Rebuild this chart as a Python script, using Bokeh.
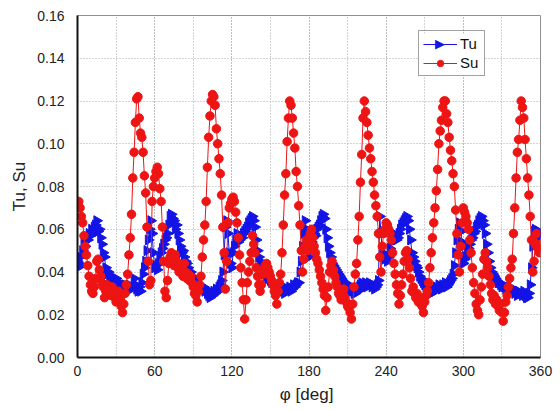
import math
from bokeh.plotting import figure
from bokeh.models import (Range1d, SingleIntervalTicker, NumeralTickFormatter, Legend,
                          LegendItem, Label, BoxAnnotation)
from bokeh.embed import file_html
from bokeh.resources import INLINE

phi = list(range(0, 361))

tu = [
0.045,0.044,0.047,0.043,0.050,0.054,0.052,0.056,0.055,0.058,
0.057,0.060,0.058,0.061,0.062,0.064,0.059,0.060,0.056,0.053,
0.049,0.047,0.042,0.039,0.040,0.037,0.038,0.036,0.036,0.035,
0.037,0.034,0.034,0.035,0.033,0.034,0.032,0.034,0.033,0.031,
0.034,0.032,0.033,0.033,0.037,0.034,0.032,0.031,0.033,0.031,
0.035,0.039,0.042,0.045,0.050,0.055,0.060,0.064,0.058,0.049,
0.042,0.043,0.041,0.044,0.046,0.049,0.051,0.053,0.055,0.056,
0.058,0.062,0.066,0.067,0.065,0.064,0.060,0.062,0.058,0.055,
0.052,0.049,0.050,0.047,0.045,0.044,0.042,0.039,0.040,0.038,
0.037,0.036,0.036,0.035,0.034,0.034,0.033,0.032,0.033,0.031,
0.032,0.030,0.029,0.028,0.030,0.029,0.031,0.030,0.032,0.031,
0.033,0.034,0.036,0.040,0.048,0.061,0.064,0.058,0.049,0.044,
0.042,0.049,0.052,0.055,0.058,0.054,0.055,0.057,0.056,0.058,
0.059,0.060,0.061,0.063,0.064,0.065,0.066,0.064,0.061,0.055,
0.050,0.047,0.045,0.043,0.041,0.039,0.040,0.038,0.037,0.037,
0.036,0.035,0.035,0.034,0.033,0.034,0.032,0.033,0.034,0.032,
0.031,0.030,0.032,0.031,0.032,0.033,0.031,0.032,0.034,0.033,
0.034,0.035,0.035,0.040,0.045,0.052,0.058,0.064,0.060,0.051,
0.047,0.050,0.054,0.056,0.058,0.057,0.060,0.061,0.062,0.064,
0.066,0.067,0.065,0.060,0.056,0.052,0.049,0.047,0.044,0.043,
0.042,0.041,0.040,0.039,0.038,0.037,0.036,0.035,0.034,0.034,
0.033,0.034,0.032,0.031,0.031,0.030,0.030,0.032,0.031,0.033,
0.034,0.035,0.034,0.033,0.035,0.033,0.034,0.035,0.034,0.033,
0.034,0.032,0.033,0.034,0.036,0.066,0.058,0.049,0.047,0.046,
0.048,0.045,0.047,0.051,0.054,0.056,0.058,0.057,0.055,0.056,
0.058,0.060,0.062,0.063,0.064,0.065,0.066,0.064,0.060,0.055,
0.049,0.047,0.045,0.043,0.042,0.040,0.038,0.037,0.036,0.035,
0.034,0.033,0.031,0.030,0.031,0.030,0.031,0.032,0.031,0.033,
0.032,0.034,0.033,0.032,0.034,0.033,0.035,0.033,0.034,0.035,
0.036,0.037,0.039,0.043,0.049,0.055,0.060,0.063,0.059,0.054,
0.044,0.046,0.047,0.049,0.051,0.053,0.055,0.056,0.058,0.059,
0.061,0.062,0.064,0.065,0.066,0.064,0.062,0.058,0.053,0.049,
0.045,0.042,0.040,0.039,0.038,0.037,0.036,0.035,0.035,0.034,
0.033,0.034,0.033,0.032,0.033,0.031,0.033,0.032,0.031,0.032,
0.030,0.031,0.029,0.031,0.030,0.030,0.029,0.031,0.029,0.028,
0.028,0.030,0.034,0.042,0.052,0.059,0.060,0.057,0.059,0.058,
0.057,
]

su = [
0.072,0.073,0.070,0.066,0.063,0.057,0.052,0.048,0.043,0.038,
0.034,0.031,0.030,0.033,0.037,0.045,0.046,0.041,0.038,0.035,
0.033,0.028,0.031,0.034,0.032,0.030,0.029,0.033,0.030,0.028,
0.026,0.029,0.031,0.027,0.024,0.021,0.025,0.030,0.034,0.039,
0.048,0.056,0.067,0.084,0.096,0.110,0.121,0.122,0.112,0.105,
0.103,0.096,0.085,0.077,0.061,0.045,0.034,0.036,0.073,0.080,
0.084,0.087,0.089,0.086,0.079,0.073,0.061,0.045,0.031,0.028,
0.036,0.044,0.047,0.049,0.046,0.043,0.048,0.045,0.042,0.040,
0.043,0.041,0.038,0.044,0.040,0.037,0.039,0.036,0.038,0.035,
0.033,0.030,0.029,0.026,0.031,0.034,0.038,0.047,0.055,0.062,
0.073,0.089,0.103,0.113,0.120,0.123,0.122,0.118,0.107,0.100,
0.093,0.086,0.076,0.061,0.049,0.032,0.045,0.063,0.070,0.072,
0.074,0.075,0.073,0.068,0.063,0.056,0.048,0.042,0.035,0.027,
0.018,0.027,0.035,0.040,0.045,0.049,0.057,0.053,0.049,0.042,
0.038,0.034,0.031,0.034,0.039,0.041,0.043,0.044,0.042,0.040,
0.038,0.036,0.034,0.031,0.029,0.025,0.031,0.035,0.039,0.049,
0.062,0.076,0.086,0.101,0.112,0.120,0.118,0.112,0.105,0.098,
0.087,0.080,0.071,0.062,0.050,0.040,0.046,0.052,0.055,0.050,
0.054,0.058,0.060,0.056,0.052,0.049,0.046,0.044,0.041,0.038,
0.035,0.032,0.029,0.022,0.028,0.033,0.040,0.043,0.045,0.041,
0.038,0.035,0.033,0.030,0.029,0.027,0.030,0.032,0.028,0.026,
0.024,0.023,0.021,0.018,0.025,0.033,0.039,0.044,0.055,0.066,
0.082,0.095,0.112,0.120,0.115,0.110,0.104,0.098,0.093,0.087,
0.082,0.076,0.071,0.066,0.058,0.047,0.040,0.052,0.058,0.060,
0.063,0.062,0.060,0.058,0.055,0.049,0.044,0.039,0.034,0.030,
0.025,0.029,0.034,0.039,0.045,0.049,0.050,0.046,0.042,0.037,
0.031,0.033,0.030,0.028,0.030,0.026,0.028,0.025,0.024,0.021,
0.026,0.029,0.031,0.035,0.042,0.049,0.056,0.063,0.070,0.078,
0.088,0.100,0.106,0.111,0.117,0.120,0.120,0.114,0.110,0.103,
0.097,0.092,0.086,0.080,0.069,0.058,0.048,0.040,0.052,0.063,
0.070,0.068,0.066,0.063,0.060,0.055,0.049,0.042,0.035,0.030,
0.025,0.022,0.020,0.027,0.033,0.039,0.046,0.049,0.045,0.042,
0.038,0.034,0.030,0.027,0.029,0.025,0.027,0.024,0.022,0.025,
0.021,0.017,0.021,0.026,0.029,0.033,0.037,0.042,0.046,0.058,
0.070,0.084,0.096,0.102,0.111,0.120,0.117,0.112,0.102,0.093,
0.084,0.076,0.066,0.055,0.040,0.045,0.053,0.058,0.051,0.049,
0.053,
]

x_ticks_step = 60
y_labels_fmt = "0.00"

FONT = "Liberation Sans"
BLUE = "#1414E6"
RED = "#EE1414"

p = figure(width=560, height=410, output_backend="svg", toolbar_location=None,
           x_range=Range1d(0, 360), y_range=Range1d(0, 0.16),
           min_border_left=77, min_border_right=20, min_border_top=15, min_border_bottom=53)

p.background_fill_color = "white"
p.border_fill_color = "white"
p.outline_line_color = "#909090"
p.outline_line_width = 1

# axes
p.xaxis.ticker = SingleIntervalTicker(interval=x_ticks_step, num_minor_ticks=2)
p.yaxis.ticker = SingleIntervalTicker(interval=0.02, num_minor_ticks=0)
p.yaxis.formatter = NumeralTickFormatter(format=y_labels_fmt)
for ax in (p.xaxis[0], p.yaxis[0]):
    ax.axis_line_color = "#111111"
    ax.axis_line_width = 2
    ax.major_tick_line_color = None
    ax.minor_tick_line_color = None
    ax.major_label_text_font = FONT
    ax.major_label_text_font_size = "14px"
    ax.major_label_text_color = "#222222"
    ax.axis_label_text_font = FONT
    ax.axis_label_text_font_style = "normal"
    ax.axis_label_text_font_size = "17px"
    ax.axis_label_text_color = "#222222"
p.xaxis.axis_label = "φ  [deg]"
p.yaxis.axis_label = "Tu, Su"
p.xaxis.major_label_standoff = 2
p.yaxis.major_label_standoff = 7
p.xaxis.axis_label_standoff = 6
p.yaxis.axis_label_standoff = 5

# grid
for g in (p.xgrid[0], p.ygrid[0]):
    g.grid_line_color = "#a8a8a8"
    g.grid_line_dash = "1 2"
    g.grid_line_width = 1
p.xgrid.minor_grid_line_color = "#a8a8a8"
p.xgrid.minor_grid_line_dash = "1 2"

# series
l1 = p.line(phi, tu, line_color=BLUE, line_width=1)
s1 = p.scatter(phi, tu, marker="triangle", angle=-math.pi / 2, size=10,
               fill_color=BLUE, line_color=BLUE)
l2 = p.line(phi, su, line_color=RED, line_width=1)
s2 = p.scatter(phi, su, marker="circle", size=8.5, fill_color=RED, line_color=RED)

# white panel behind the (transparent) legend, hides the grid there
panel = BoxAnnotation(left=342, right=407, bottom=282, top=324,
                      left_units="screen", right_units="screen",
                      bottom_units="screen", top_units="screen",
                      fill_color="white", fill_alpha=1, line_color=None)
p.add_layout(panel)

# right-pointing triangle for the Tu legend entry (frame-relative screen units)
tri = Label(x=357, y=307, x_units="screen", y_units="screen", text="▶",
            text_font_size="13px", text_color=BLUE, level="overlay")
p.add_layout(tri)

legend = Legend(items=[LegendItem(label="Tu", renderers=[l1]),
                       LegendItem(label="Su", renderers=[l2, s2])],
                location=(341, 281))
legend.border_line_color = "#444444"
legend.border_line_width = 1
legend.background_fill_alpha = 0
legend.label_text_font = FONT
legend.label_text_font_size = "15px"
legend.label_text_color = "#111111"
legend.glyph_width = 34
legend.glyph_height = 16
legend.label_standoff = 3
legend.spacing = 2
legend.padding = 4
legend.margin = 0
p.add_layout(legend)

open("out.html", "w").write(file_html(p, INLINE))
